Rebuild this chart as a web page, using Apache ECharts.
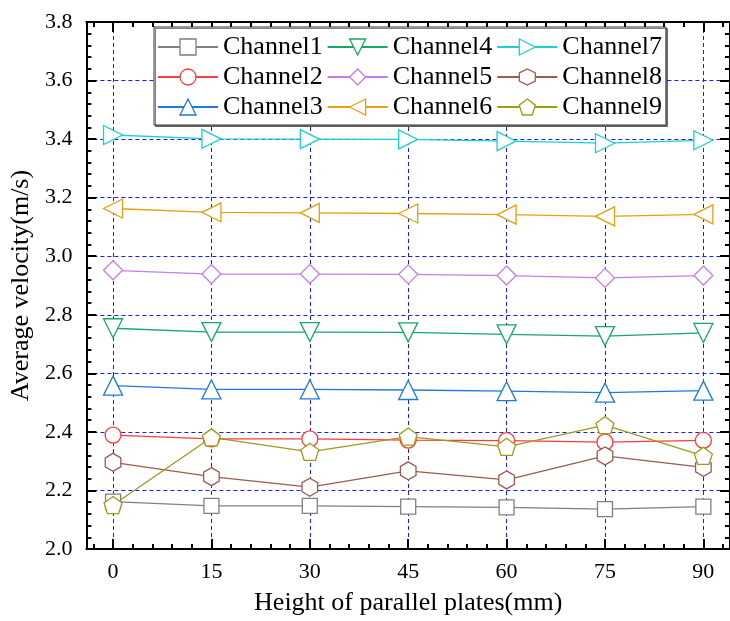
<!DOCTYPE html>
<html>
<head>
<meta charset="utf-8">
<script src="https://cdn.jsdelivr.net/npm/echarts@6/dist/echarts.min.js"></script>
<style>
  html, body { margin: 0; padding: 0; background: #fff; }
  #main { width: 730px; height: 621px; }
</style>
</head>
<body>
<div id="main"></div>
<script>
// plate heights (mm)
var heights = [0, 15, 30, 45, 60, 75, 90];
var minorTicks = [-3, 3, 6, 9, 12, 18, 21, 24, 27, 33, 36, 39, 42, 48, 51, 54, 57, 63, 66, 69, 72, 78, 81, 84, 87, 93];

var channel1 = [2.162, 2.147, 2.147, 2.145, 2.142, 2.136, 2.145];
var channel2 = [2.389, 2.376, 2.376, 2.372, 2.370, 2.365, 2.371];
var channel3 = [2.558, 2.545, 2.545, 2.543, 2.539, 2.534, 2.541];
var channel4 = [2.754, 2.741, 2.741, 2.740, 2.733, 2.727, 2.738];
var channel5 = [2.952, 2.939, 2.939, 2.938, 2.934, 2.926, 2.934];
var channel6 = [3.163, 3.150, 3.148, 3.146, 3.142, 3.136, 3.143];
var channel7 = [3.414, 3.401, 3.400, 3.399, 3.393, 3.386, 3.396];
var channel8 = [2.296, 2.247, 2.211, 2.267, 2.236, 2.318, 2.279];
var channel9 = [2.150, 2.381, 2.332, 2.384, 2.349, 2.423, 2.318];

var hexagon = 'path://M0,-1L0.866,-0.5L0.866,0.5L0,1L-0.866,0.5L-0.866,-0.5Z';
var pentagon = 'path://M0,-1L0.951,-0.309L0.588,0.809L-0.588,0.809L-0.951,-0.309Z';

var font = 'Liberation Serif';
var gridColor = '#1a1aff';

function mkSeries(name, vals, color, symbol, size, rotate) {
    var d = [];
    for (var i = 0; i < heights.length; i++) d.push([heights[i], vals[i]]);
    return {
        name: name,
        type: 'line',
        data: d,
        symbol: symbol,
        symbolSize: size,
        symbolRotate: rotate || 0,
        symbolKeepAspect: true,
        showAllSymbol: true,
        lineStyle: { color: color, width: 1.3 },
        itemStyle: { color: '#fff', borderColor: color, borderWidth: 1.3 },
        emphasis: { disabled: true },
        z: 3
    };
}

function xAx(pos, vals, len, opts) {
    var a = {
        type: 'value',
        position: pos,
        min: -4.06,
        max: 94.06,
        axisLine: { show: true, onZero: false, lineStyle: { color: '#000', width: 2 } },
        axisTick: { show: true, inside: true, length: len, customValues: vals, lineStyle: { color: '#000', width: 2 } },
        axisLabel: { show: false },
        splitLine: { show: false }
    };
    for (var k in opts) a[k] = opts[k];
    return a;
}

function yAx(pos, opts) {
    var a = {
        type: 'value',
        position: pos,
        min: 2.0,
        max: 3.8,
        interval: 0.2,
        axisLine: { show: true, onZero: false, lineStyle: { color: '#000', width: 2 } },
        axisTick: { show: true, inside: true, length: 10, lineStyle: { color: '#000', width: 2 } },
        minorTick: { show: true, splitNumber: 5, length: 5, lineStyle: { color: '#000', width: 2 } },
        axisLabel: { show: false },
        splitLine: { show: false }
    };
    for (var k in opts) a[k] = opts[k];
    return a;
}

var chart = echarts.init(document.getElementById('main'));
var option = {
    animation: false,
    grid: { left: 86, top: 22, width: 653, bottom: 72, containLabel: false },
    legend: {
        orient: 'vertical',
        left: 154,
        top: 27,
        height: 94,
        padding: [7, 4, 5, 3],
        itemWidth: 60,
        itemHeight: 20,
        itemGap: 4,
        backgroundColor: '#fff',
        borderColor: '#333',
        borderWidth: 1,
        shadowColor: 'rgba(0,0,0,0.5)',
        shadowOffsetX: 1.5,
        shadowOffsetY: 1.5,
        shadowBlur: 0,
        itemStyle: { borderWidth: 1.3 },
        textStyle: { fontFamily: font, fontSize: 26, color: '#000' },
        data: ['Channel1', 'Channel2', 'Channel3', 'Channel4', 'Channel5', 'Channel6', 'Channel7', 'Channel8', 'Channel9']
    },
    xAxis: [
        xAx('bottom', heights, 10, {
            name: 'Height of parallel plates(mm)',
            nameLocation: 'middle',
            nameGap: 41,
            nameTextStyle: { fontFamily: font, fontSize: 26, color: '#000' },
            axisLabel: { show: true, customValues: heights, margin: 12, fontFamily: font, fontSize: 22, color: '#000' },
            splitLine: { show: true, lineStyle: { color: gridColor, type: [4, 3], width: 1 } }
        }),
        xAx('bottom', minorTicks, 5, { axisLine: { show: false } }),
        xAx('top', heights, 10, {}),
        xAx('top', minorTicks, 5, { axisLine: { show: false } })
    ],
    yAxis: [
        yAx('left', {
            name: 'Average velocity(m/s)',
            nameLocation: 'middle',
            nameGap: 42,
            nameTextStyle: { fontFamily: font, fontSize: 26, color: '#000' },
            axisLabel: { show: true, margin: 14, fontFamily: font, fontSize: 22, color: '#000',
                formatter: function (v) { return v.toFixed(1); } },
            splitLine: { show: true, lineStyle: { color: gridColor, type: [4, 3], width: 1 } }
        }),
        yAx('right', {})
    ],
    series: [
        mkSeries('Channel1', channel1, '#808080', 'rect', 15),
        mkSeries('Channel2', channel2, '#ff3b3b', 'circle', 16),
        mkSeries('Channel3', channel3, '#1f78e0', 'triangle', 19),
        mkSeries('Channel4', channel4, '#16a865', 'triangle', 19, 180),
        mkSeries('Channel5', channel5, '#c57ee6', 'diamond', 19),
        mkSeries('Channel6', channel6, '#e4a010', 'triangle', 19, 90),
        mkSeries('Channel7', channel7, '#1ccfd4', 'triangle', 19, -90),
        mkSeries('Channel8', channel8, '#9c5a52', hexagon, 18),
        mkSeries('Channel9', channel9, '#9f9a18', pentagon, 18)
    ]
};
chart.setOption(option);
</script>
</body>
</html>
